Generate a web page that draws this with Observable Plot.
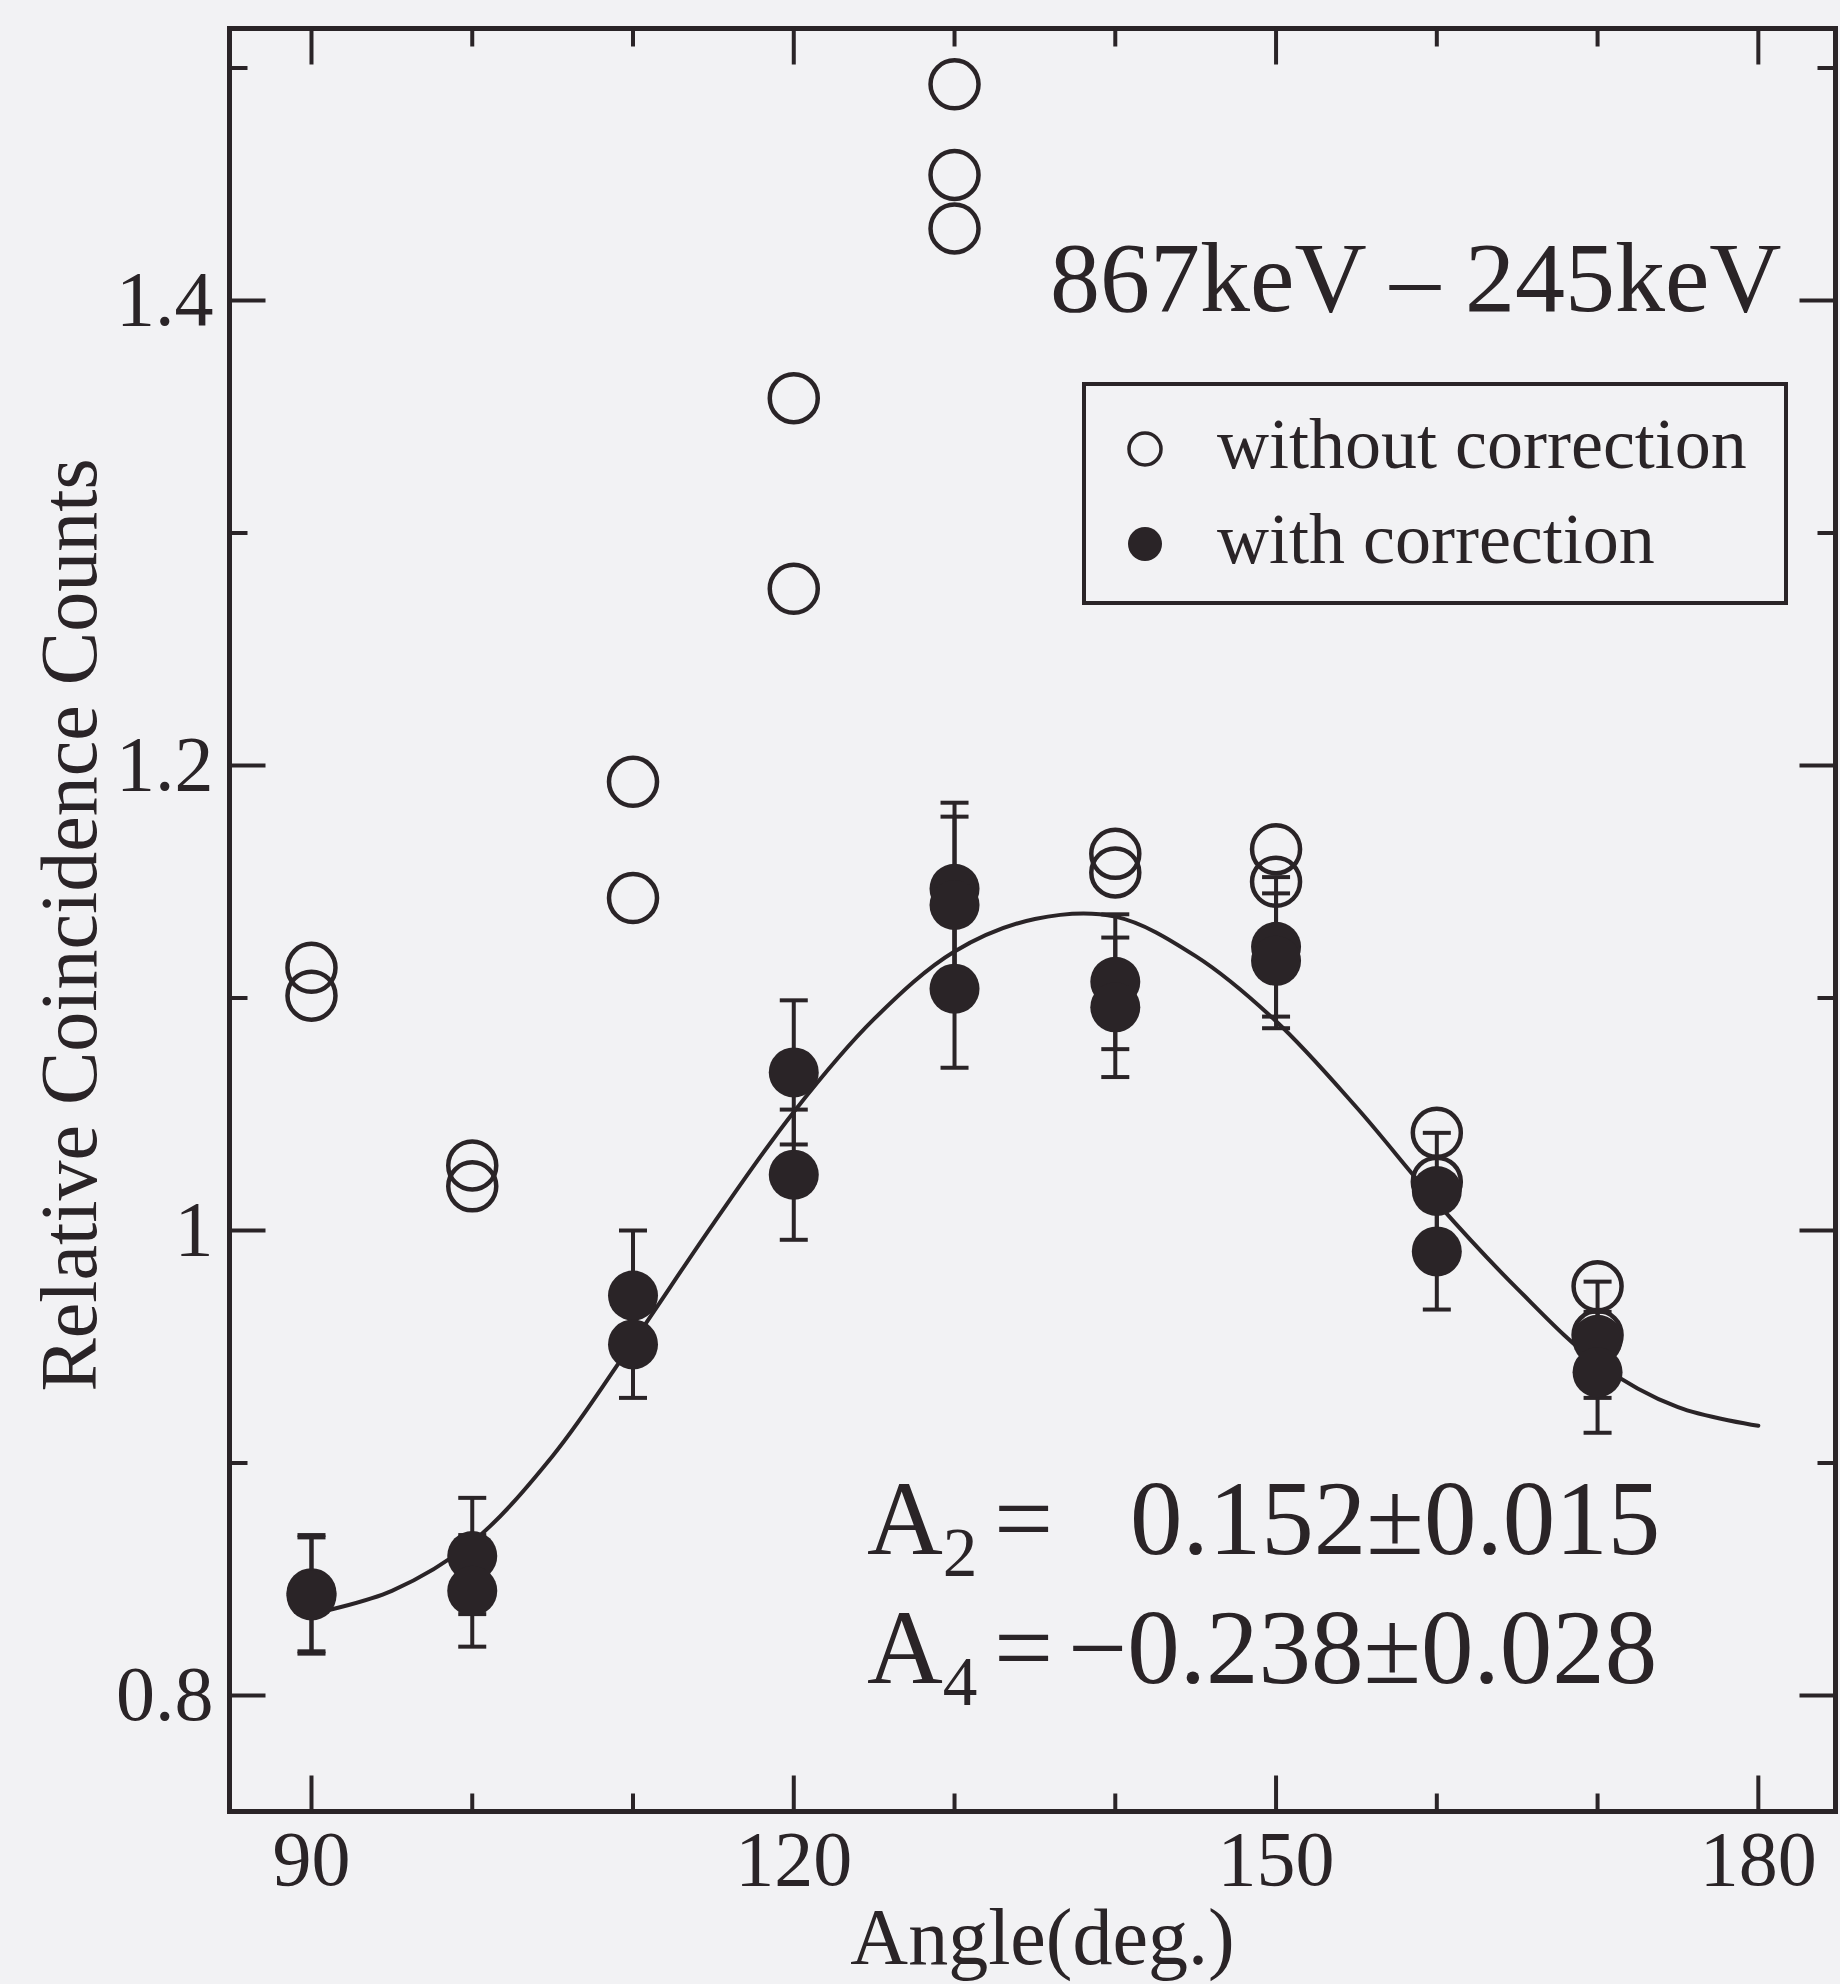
<!DOCTYPE html>
<html><head><meta charset="utf-8">
<script src="https://cdn.jsdelivr.net/npm/d3@7"></script>
<script src="https://cdn.jsdelivr.net/npm/@observablehq/plot@0.6"></script>
<style>
html,body{margin:0;padding:0;background:#f2f2f4;}
#wrap{position:relative;width:1840px;height:1984px;font-family:'Liberation Serif','Times New Roman',serif;color:#2a2427;overflow:hidden;}
.ann{position:absolute;white-space:nowrap;line-height:1;font-size:105px;}
.ann .sub{font-size:66%;position:relative;top:0.32em;}
#legend{position:absolute;left:1082px;top:382px;width:706px;height:223px;box-sizing:border-box;border:4.5px solid #2a2427;}
#legend .lt{position:absolute;left:131px;font-size:72px;line-height:1;white-space:nowrap;}
#legend svg{position:absolute;left:-4px;top:-4px;}
</style></head><body><div id="wrap"></div>
<script>
// ---- data ----
const withoutAngles = [90, 90, 100, 100, 110, 110, 120, 120, 130, 130, 130, 140, 140, 150, 150, 160, 160, 170, 170];
const withoutValues = [1.113, 1.101, 1.028, 1.019, 1.193, 1.143, 1.358, 1.276, 1.493, 1.454, 1.431, 1.162, 1.154, 1.164, 1.150, 1.042, 1.021, 0.976, 0.955];

const withAngles = [90, 90, 100, 100, 110, 110, 120, 120, 130, 130, 130, 140, 140, 150, 150, 160, 160, 170, 170];
const withValues = [0.844, 0.843, 0.860, 0.845, 0.972, 0.951, 1.068, 1.024, 1.147, 1.140, 1.104, 1.107, 1.096, 1.122, 1.116, 1.017, 0.991, 0.953, 0.939];
const withErrors = [0.025, 0.025, 0.025, 0.024, 0.028, 0.023, 0.031, 0.028, 0.037, 0.038, 0.034, 0.029, 0.030, 0.030, 0.029, 0.025, 0.025, 0.025, 0.026];

const fitAngles = [90, 95, 100, 105, 110, 115, 120, 125, 130, 135, 140, 145, 150, 155, 160, 165, 170, 175, 180];
const fitValues = [0.835, 0.845, 0.866, 0.903, 0.952, 1.003, 1.051, 1.091, 1.120, 1.134, 1.135, 1.118, 1.090, 1.053, 1.012, 0.975, 0.943, 0.924, 0.916];

const xMajorTicks = [90, 120, 150, 180];
const xMinorTicks = [100, 110, 130, 140, 160, 170];
const yMajorTicks = [0.8, 1.0, 1.2, 1.4];
const yMinorTicks = [0.9, 1.1, 1.3, 1.5];
const yTickLabels = ["0.8", "1", "1.2", "1.4"];

const titleText = "867keV \u2013 245keV";
const xLabel = "Angle(deg.)";
const yLabel = "Relative Coincidence Counts";
const legendLabels = ["without correction", "with correction"];
const coefNames = ["2", "4"];
const coefSigns = ["", "\u2212"];
const coefValues = ["0.152\u00b10.015", "0.238\u00b10.028"];

// ---- tables built from the arrays ----
const openPts = withoutAngles.map((a, i) => ({angle: a, value: withoutValues[i]}));
const filledPts = withAngles.map((a, i) => ({angle: a, value: withValues[i], err: withErrors[i]}));
const fitPts = fitAngles.map((a, i) => ({angle: a, value: fitValues[i]}));

const ink = "#2a2427";
const FONT = "'Liberation Serif','Times New Roman',serif";

function seg(ux, uy) {
  return {draw(ctx, size) { const L = Math.sqrt(size / Math.PI); ctx.moveTo(0, 0); ctx.lineTo(ux * L, uy * L); }};
}
const cap = {draw(ctx, size) { const L = Math.sqrt(size / Math.PI); ctx.moveTo(-L, 0); ctx.lineTo(L, 0); }};

const tickStyle = {fill: "none", stroke: ink, strokeWidth: 4};
function ticksX(vals, len) {
  return [
    Plot.dot(vals, {x: d => d, frameAnchor: "bottom", symbol: seg(0, -1), r: len, ...tickStyle}),
    Plot.dot(vals, {x: d => d, frameAnchor: "top", symbol: seg(0, 1), r: len, ...tickStyle})
  ];
}
function ticksY(vals, len) {
  return [
    Plot.dot(vals, {y: d => d, frameAnchor: "left", symbol: seg(1, 0), r: len, ...tickStyle}),
    Plot.dot(vals, {y: d => d, frameAnchor: "right", symbol: seg(-1, 0), r: len, ...tickStyle})
  ];
}

const chart = Plot.plot({
  width: 1840,
  height: 1984,
  marginLeft: 229,
  marginRight: 5,
  marginTop: 28,
  marginBottom: 173,
  style: {background: "transparent", fontFamily: FONT, fontSize: "78px", color: ink},
  x: {domain: [84.9, 184.8], label: null},
  y: {domain: [0.7501, 1.517], label: null},
  marks: [
    Plot.frame({stroke: ink, strokeWidth: 5}),
    ...ticksX(xMajorTicks, 36), ...ticksX(xMinorTicks, 18),
    ...ticksY(yMajorTicks, 36), ...ticksY(yMinorTicks, 18),
    Plot.axisX({ticks: xMajorTicks, tickSize: 0, tickPadding: 18, fontSize: 78, tickFormat: d => String(d), label: null}),
    Plot.axisY({ticks: yMajorTicks, tickSize: 0, tickPadding: 16, fontSize: 78, tickFormat: d => yTickLabels[yMajorTicks.indexOf(d)], label: null}),
    Plot.text([xLabel], {text: d => d, frameAnchor: "bottom", textAnchor: "middle", lineAnchor: "bottom", dx: 10, dy: 152, fontSize: 80}),
    Plot.text([yLabel], {text: d => d, frameAnchor: "left", textAnchor: "middle", lineAnchor: "bottom", rotate: -90, dx: -134, dy: 5, fontSize: 80}),
    Plot.text([titleText], {text: d => d, frameAnchor: "top-right", textAnchor: "end", lineAnchor: "bottom", dx: -54, dy: 282, fontSize: 100}),
    Plot.dot(openPts, {x: "angle", y: "value", r: 24, fill: "none", stroke: ink, strokeWidth: 4.5}),
    Plot.line(fitPts, {x: "angle", y: "value", curve: "catmull-rom", stroke: ink, strokeWidth: 4}),
    Plot.ruleX(filledPts, {x: "angle", y1: d => d.value - d.err, y2: d => d.value + d.err, stroke: ink, strokeWidth: 4}),
    Plot.dot(filledPts, {x: "angle", y: d => d.value + d.err, symbol: cap, r: 14, fill: "none", stroke: ink, strokeWidth: 4}),
    Plot.dot(filledPts, {x: "angle", y: d => d.value - d.err, symbol: cap, r: 14, fill: "none", stroke: ink, strokeWidth: 4}),
    Plot.dot(filledPts, {x: "angle", y: "value", r: 25, fill: ink, stroke: "none"})
  ]
});

const wrap = document.getElementById("wrap");
wrap.appendChild(chart);

// legend
const legend = document.createElement("div");
legend.id = "legend";
legend.innerHTML =
  `<svg width="706" height="223"><circle cx="63" cy="67" r="16" fill="none" stroke="${ink}" stroke-width="3.5"/>` +
  `<circle cx="63" cy="162" r="17" fill="${ink}"/></svg>` +
  `<div class="lt" style="top:22px">${legendLabels[0]}</div>` +
  `<div class="lt" style="top:117px">${legendLabels[1]}</div>`;
wrap.appendChild(legend);

// coefficient annotations
const lineTops = [1466, 1595];
function addAnn(left, top, html) {
  const el = document.createElement("div");
  el.className = "ann";
  el.style.left = left + "px";
  el.style.top = top + "px";
  el.innerHTML = html;
  wrap.appendChild(el);
}
coefNames.forEach((n, i) => {
  addAnn(867, lineTops[i], `A<span class="sub">${n}</span>`);
  addAnn(994, lineTops[i], "=");
  addAnn(coefSigns[i] ? 1068 : 1130, lineTops[i], coefSigns[i] + coefValues[i]);
});
</script></body></html>
